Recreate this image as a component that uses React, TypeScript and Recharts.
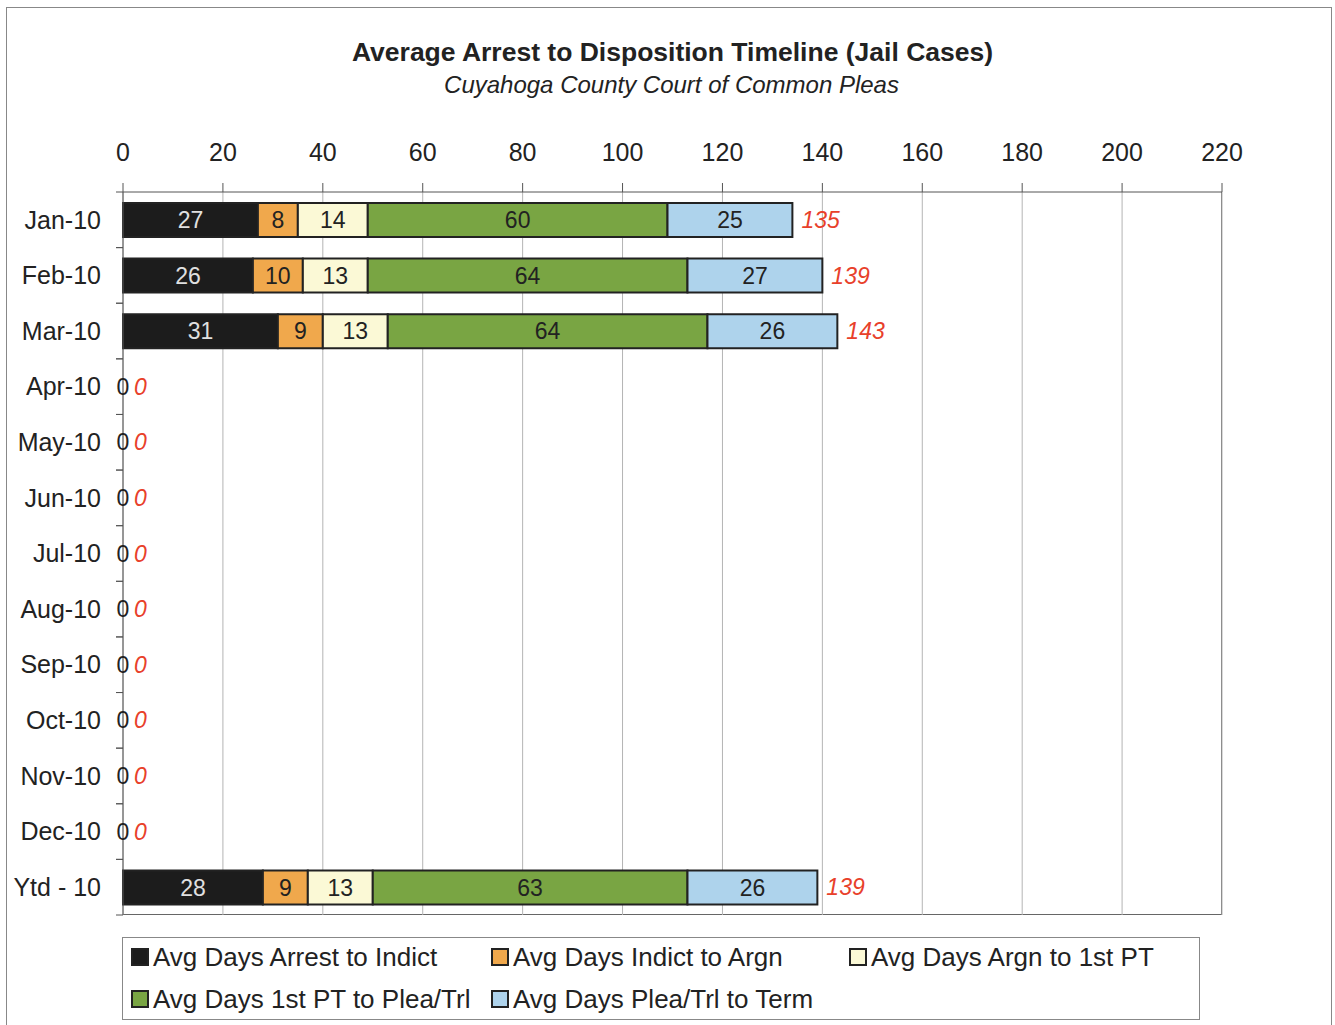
import { Bar, BarChart, CartesianGrid, LabelList, Legend, XAxis, YAxis } from 'recharts';

const categories = ['Jan-10', 'Feb-10', 'Mar-10', 'Apr-10', 'May-10', 'Jun-10', 'Jul-10', 'Aug-10', 'Sep-10', 'Oct-10', 'Nov-10', 'Dec-10', 'Ytd - 10'];
const arrestToIndict = [27, 26, 31, 0, 0, 0, 0, 0, 0, 0, 0, 0, 28];
const indictToArgn = [8, 10, 9, 0, 0, 0, 0, 0, 0, 0, 0, 0, 9];
const argnToFirstPT = [14, 13, 13, 0, 0, 0, 0, 0, 0, 0, 0, 0, 13];
const firstPTToPlea = [60, 64, 64, 0, 0, 0, 0, 0, 0, 0, 0, 0, 63];
const pleaToTerm = [25, 27, 26, 0, 0, 0, 0, 0, 0, 0, 0, 0, 26];
const totals = [135, 139, 143, 0, 0, 0, 0, 0, 0, 0, 0, 0, 139];
const xTicks = [0, 20, 40, 60, 80, 100, 120, 140, 160, 180, 200, 220];

const seriesList = [
	{ key: 'a', name: 'Avg Days Arrest to Indict', color: '#1c1c1c', text: '#e0e0e0' },
	{ key: 'b', name: 'Avg Days Indict to Argn', color: '#f0a84c', text: '#222' },
	{ key: 'c', name: 'Avg Days Argn to 1st PT', color: '#fbf9d6', text: '#222' },
	{ key: 'd', name: 'Avg Days 1st PT to Plea/Trl', color: '#79a543', text: '#222' },
	{ key: 'e', name: 'Avg Days Plea/Trl to Term', color: '#aed3ec', text: '#222' },
];

const data = categories.map((name, i) => ({
	name,
	a: arrestToIndict[i],
	b: indictToArgn[i],
	c: argnToFirstPT[i],
	d: firstPTToPlea[i],
	e: pleaToTerm[i],
	total: totals[i],
}));

const W = 1335;
const H = 1025;
const plotTop = 192;
const plotBottom = 915;
const plotLeft = 123;
const plotRight = 1222;
const band = (plotBottom - plotTop) / categories.length;
const font = '"Liberation Sans", Arial, sans-serif';

// category label + Excel-style ticks between categories; empty rows get their "0 0" labels here
function CategoryTick(props: any) {
	const { x, y, payload } = props;
	const total = totals[payload.index];
	return (
		<g>
			<line x1={plotLeft - 7} x2={plotLeft} y1={y - band / 2} y2={y - band / 2} stroke="#555" />
			<line x1={plotLeft - 7} x2={plotLeft} y1={y + band / 2} y2={y + band / 2} stroke="#555" />
			<text x={x - 14} y={y} dy="0.35em" textAnchor="end" fontSize={25} fill="#222" fontFamily={font}>
				{payload.value}
			</text>
			{total === 0 && (
				<>
					<text x={plotLeft} y={y} dy="0.35em" textAnchor="middle" fontSize={23} fill="#222" fontFamily={font}>
						{arrestToIndict[payload.index]}
					</text>
					<text x={plotLeft + 11} y={y} dy="0.35em" fontSize={23} fill="#e8402a" fontStyle="italic" fontFamily={font}>
						{total}
					</text>
				</>
			)}
		</g>
	);
}

function TotalLabel(props: any) {
	const { x, y, width, height, value } = props;
	if (!value) return null;
	return (
		<text x={x + width + 9} y={y + height / 2} dy="0.35em" fontSize={23} fill="#e8402a" fontStyle="italic" fontFamily={font}>
			{value}
		</text>
	);
}

function LegendBox() {
	const items = [
		{ s: seriesList[0], left: 8, top: 5 },
		{ s: seriesList[1], left: 368, top: 5 },
		{ s: seriesList[2], left: 726, top: 5 },
		{ s: seriesList[3], left: 8, top: 47 },
		{ s: seriesList[4], left: 368, top: 47 },
	];
	return (
		<div style={{ position: 'relative', width: 1076, height: 81, border: '1.5px solid #888', background: '#fff', fontFamily: font }}>
			{items.map(({ s, left, top }) => (
				<div key={s.key} style={{ position: 'absolute', left, top, display: 'flex', alignItems: 'center', height: 28 }}>
					<span style={{ display: 'inline-block', width: 14, height: 14, background: s.color, border: '2px solid #222', marginRight: 4 }} />
					<span style={{ fontSize: 26, color: '#222', whiteSpace: 'nowrap' }}>{s.name}</span>
				</div>
			))}
		</div>
	);
}

export default function App() {
	return (
		<div style={{ position: 'absolute', left: 0, top: 0, width: W, height: H, background: '#fff', overflow: 'hidden' }}>
			<div style={{ position: 'absolute', left: 6, top: 7, width: 1324, height: 1100, border: '1.5px solid #888' }} />
			<div style={{ position: 'absolute', top: 37, width: W, textAlign: 'center', fontFamily: font, color: '#222' }}>
				<div style={{ fontSize: 26.5, fontWeight: 'bold', marginLeft: 10 }}>Average Arrest to Disposition Timeline (Jail Cases)</div>
				<div style={{ fontSize: 24, fontStyle: 'italic', marginTop: 3, marginLeft: 8 }}>Cuyahoga County Court of Common Pleas</div>
			</div>
			<div style={{ position: 'absolute', left: plotLeft, top: plotTop, width: plotRight - plotLeft, height: plotBottom - plotTop, borderRight: '1.5px solid #666', borderBottom: '1.5px solid #666', boxSizing: 'border-box' }} />
			<div style={{ position: 'absolute', left: 0, top: 0 }}>
				<BarChart
					width={W}
					height={H}
					data={data}
					layout="vertical"
					margin={{ top: plotTop - 50, right: W - plotRight, bottom: H - plotBottom, left: 10 }}
				>
					<CartesianGrid horizontal={false} stroke="#b4b4b4" />
					<XAxis
						type="number"
						orientation="top"
						domain={[0, 220]}
						ticks={xTicks}
						height={50}
						tickSize={9}
						tickMargin={22}
						axisLine={{ stroke: '#555' }}
						tickLine={{ stroke: '#555' }}
						tick={{ fontSize: 25, fill: '#222', fontFamily: font }}
					/>
					<YAxis type="category" dataKey="name" width={113} axisLine={{ stroke: '#555' }} tickLine={false} tick={<CategoryTick />} />
					{seriesList.map((s, idx) => (
						<Bar key={s.key} dataKey={s.key} name={s.name} stackId="t" fill={s.color} stroke="#222" strokeWidth={2} barSize={34} isAnimationActive={false}>
							<LabelList dataKey={s.key} position="center" fill={s.text} fontSize={23} fontFamily={font} />
							{idx === seriesList.length - 1 && <LabelList dataKey="total" content={<TotalLabel />} />}
						</Bar>
					))}
					<Legend layout="vertical" align="center" verticalAlign="middle" wrapperStyle={{ left: 122, top: 937, width: 1080 }} content={<LegendBox />} />
				</BarChart>
			</div>
		</div>
	);
}
